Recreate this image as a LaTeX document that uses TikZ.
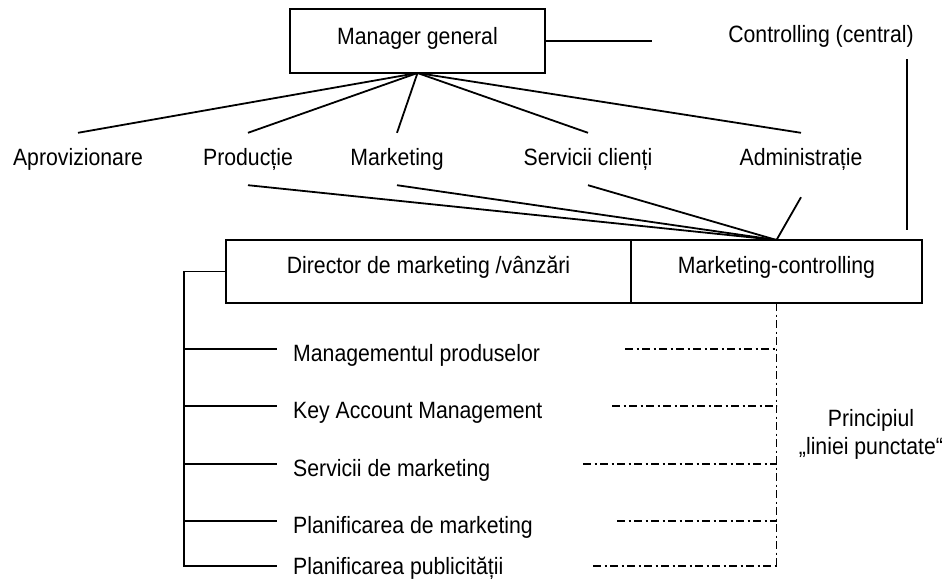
\documentclass[tikz,border=0pt]{standalone}
\usepackage{fontspec}
\setmainfont[FakeStretch=0.9]{Liberation Sans}
\usetikzlibrary{positioning}
\tikzset{
  BoxStyle/.style = { rectangle, draw, line width=1.8pt, inner sep=0pt,
                      outer sep=0pt, font = \fontsize{23.6}{28}\selectfont },
  UnitStyle/.style = { inner sep=0pt, minimum height=52pt,
                       font = \fontsize{23.6}{28}\selectfont },
  ItemStyle/.style = { anchor=west, inner xsep=16pt, inner ysep=0pt,
                       text height=24pt, text depth=0pt,
                       font = \fontsize{23.6}{28}\selectfont },
  EdgeStyle/.style = { line width=1.8pt },
  DotStyle/.style = { line width=1.8pt,
                      dash pattern=on 8pt off 3.5pt on 2pt off 3.5pt } }

\begin{document}
\begin{tikzpicture}[x=1pt, y=-1pt]
  \useasboundingbox (0,0) rectangle (948,581);
  % top
  \node[BoxStyle, minimum width=255pt, minimum height=64pt, text depth=11pt](mg) at (417.5,41) {Manager general};
  \node[UnitStyle](ctrl) at (821,36) {Controlling (central)};
  \coordinate (ce) at (652,41);
  \coordinate (ct) at (907,59);
  \coordinate (cb) at (907,230);
  % departments
  \node[UnitStyle](apro) at (78,159) {Aprovizionare};
  \node[UnitStyle](prod) at (248,159) {Producție};
  \node[UnitStyle](mkt) at (397,159) {Marketing};
  \node[UnitStyle](serv) at (588,159) {Servicii clienți};
  \node[UnitStyle](admin) at (801,159) {Administrație};
  % marketing box
  \node[BoxStyle, minimum width=405pt, minimum height=63pt, text depth=14pt](dir) at (428.5,271.5) {Director de marketing /vânzări};
  \node[BoxStyle, minimum width=291pt, minimum height=63pt, text depth=14pt, right=0pt of dir](mc) {Marketing-controlling};
  % items
  \coordinate (lt) at (184,271.5);
  \node[ItemStyle](p1) at (277,349) {Managementul produselor};
  \node[ItemStyle](p2) at (277,406) {Key Account Management};
  \node[ItemStyle](p3) at (277,464) {Servicii de marketing};
  \node[ItemStyle](p4) at (277,521) {Planificarea de marketing};
  \node[ItemStyle, text height=16pt](p5) at (277,566) {Planificarea publicității};
  \coordinate (d1) at (625,349);
  \coordinate (d2) at (612,406);
  \coordinate (d3) at (583,464);
  \coordinate (d4) at (617,521);
  \coordinate (d5) at (593,566);
  \node[font=\fontsize{23.6}{28}\selectfont, align=center, inner sep=0pt](princ) at (871,434) {Principiul\\„liniei punctate“};

  \draw[EdgeStyle] (mg.east) -- (ce);
  \draw[EdgeStyle] (ct) -- (cb);
  \draw[EdgeStyle] (mg.south) -- (apro.north);
  \draw[EdgeStyle] (mg.south) -- (prod.north);
  \draw[EdgeStyle] (mg.south) -- (mkt.north);
  \draw[EdgeStyle] (mg.south) -- (serv.north);
  \draw[EdgeStyle] (mg.south) -- (admin.north);
  \draw[EdgeStyle] (prod.south) -- (mc.north);
  \draw[EdgeStyle] (mkt.south) -- (mc.north);
  \draw[EdgeStyle] (serv.south) -- (mc.north);
  \draw[EdgeStyle] ([yshift=-12pt]admin.south) -- (mc.north);
  \draw[EdgeStyle] (dir.west) -- (lt) -- (lt |- p5.west) -- (p5.west);
  \draw[EdgeStyle] (lt |- p1.west) -- (p1.west);
  \draw[EdgeStyle] (lt |- p2.west) -- (p2.west);
  \draw[EdgeStyle] (lt |- p3.west) -- (p3.west);
  \draw[EdgeStyle] (lt |- p4.west) -- (p4.west);
  \draw[DotStyle] (mc.south) -- (mc.south |- d5);
  \draw[DotStyle] (d1) -- (d1 -| mc.south);
  \draw[DotStyle] (d2) -- (d2 -| mc.south);
  \draw[DotStyle] (d3) -- (d3 -| mc.south);
  \draw[DotStyle] (d4) -- (d4 -| mc.south);
  \draw[DotStyle] (d5) -- (d5 -| mc.south);
\end{tikzpicture}
\end{document}
